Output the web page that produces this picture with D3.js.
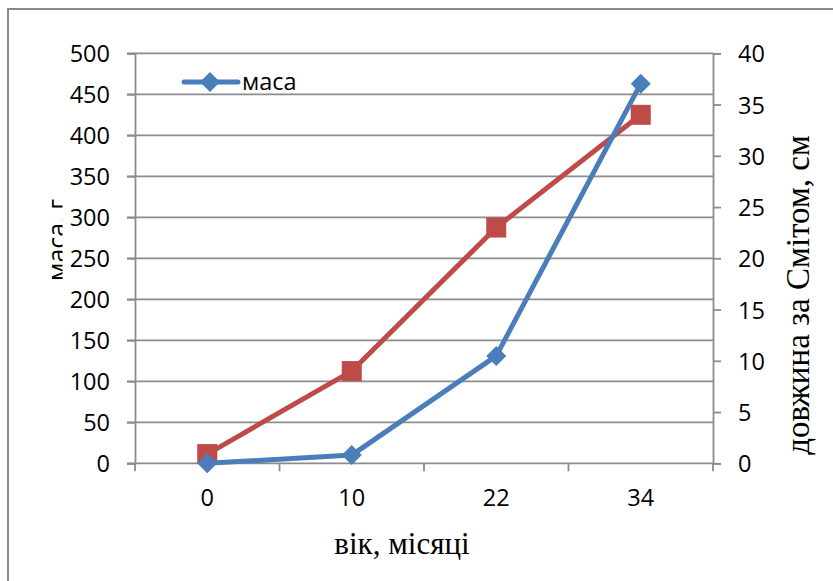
<!DOCTYPE html>
<html>
<head>
<meta charset="utf-8">
<script src="https://cdn.jsdelivr.net/npm/d3@7"></script>
<style>
  html, body { margin: 0; padding: 0; background: #fff; }
  svg { display: block; }
</style>
</head>
<body>
<svg id="chart" width="833" height="581"></svg>
<script>
// Age categories (months)
const ages = ["0", "10", "22", "34"];
// Body mass, g (left axis)
const massValues = [0, 10, 131, 463];
// Smith length, cm (right axis)
const lengthValues = [0.9, 9, 23, 34];
// Axis ticks
const massTicks = [0, 50, 100, 150, 200, 250, 300, 350, 400, 450, 500];
const lengthTicks = [0, 5, 10, 15, 20, 25, 30, 35, 40];

const svg = d3.select("#chart");
const W = 833, H = 581;
const m = { left: 135, right: 713, top: 53.3, bottom: 463.3 };

const sansFont = "'Open Sans', 'Noto Sans', sans-serif";
const serifFont = "'Liberation Serif', 'DejaVu Serif', serif";
const gridColor = "#8c8c8c";
const blue = "#4a7ebb";
const red = "#be4b48";

// Outer frame
svg.append("rect")
  .attr("x", 8).attr("y", 9)
  .attr("width", W + 20).attr("height", H + 20)
  .attr("fill", "#fff").attr("stroke", "#8a8a8a").attr("stroke-width", 2);

const x = d3.scaleBand().domain(ages).range([m.left, m.right]);
const yL = d3.scaleLinear().domain([0, 500]).range([m.bottom, m.top]);
const yR = d3.scaleLinear().domain([0, 40]).range([m.bottom, m.top]);

// Left axis title, partly hidden by the tick label area
svg.append("clipPath").attr("id", "ltitleClip")
  .append("rect").attr("x", 0).attr("y", 0).attr("width", 62.5).attr("height", H);
svg.append("g").attr("clip-path", "url(#ltitleClip)")
  .append("text")
  .attr("transform", "translate(66,240) rotate(-90)")
  .attr("text-anchor", "middle")
  .style("font-family", sansFont).style("font-size", "25px").attr("fill", "#000")
  .text("маса, г");

// Horizontal gridlines
svg.append("g")
  .selectAll("line").data(massTicks).join("line")
  .attr("x1", m.left - 8).attr("x2", m.right)
  .attr("y1", d => yL(d)).attr("y2", d => yL(d))
  .attr("stroke", gridColor).attr("stroke-width", 1.8);

// Left axis
const gL = svg.append("g").attr("transform", `translate(${m.left},0)`)
  .call(d3.axisLeft(yL).tickValues(massTicks).tickSize(8).tickPadding(17));
gL.select(".domain").attr("stroke", gridColor).attr("stroke-width", 1.8);
gL.selectAll(".tick line").attr("stroke", gridColor).attr("stroke-width", 1.8);
gL.selectAll(".tick text")
  .style("font-family", sansFont).style("font-size", "23.5px").attr("fill", "#000")
  .attr("dy", "0.36em");

// Right axis
const gR = svg.append("g").attr("transform", `translate(${m.right},0)`)
  .call(d3.axisRight(yR).tickValues(lengthTicks).tickSize(8).tickPadding(17));
gR.select(".domain").attr("stroke", gridColor).attr("stroke-width", 1.8);
gR.selectAll(".tick line").attr("stroke", gridColor).attr("stroke-width", 1.8);
gR.selectAll(".tick text")
  .style("font-family", sansFont).style("font-size", "23.5px").attr("fill", "#000")
  .attr("dy", "0.36em");

// Bottom axis: labels centred on categories, ticks between categories
const gB = svg.append("g").attr("transform", `translate(0,${m.bottom})`)
  .call(d3.axisBottom(x).tickSize(0).tickPadding(26));
gB.select(".domain").remove();
gB.selectAll(".tick text")
  .style("font-family", sansFont).style("font-size", "23.5px").attr("fill", "#000");
const bounds = d3.range(ages.length + 1).map(i => m.left + i * x.step());
svg.append("g").selectAll("line").data(bounds).join("line")
  .attr("x1", d => d).attr("x2", d => d)
  .attr("y1", m.bottom).attr("y2", m.bottom + 8)
  .attr("stroke", gridColor).attr("stroke-width", 1.8);

const cx = d => x(d) + x.bandwidth() / 2;

// Length series (red squares)
const lengthData = ages.map((a, i) => ({ a, v: lengthValues[i] }));
svg.append("path").datum(lengthData)
  .attr("fill", "none").attr("stroke", red).attr("stroke-width", 5)
  .attr("stroke-linejoin", "round")
  .attr("d", d3.line().x(d => cx(d.a)).y(d => yR(d.v)));
svg.append("g").selectAll("rect").data(lengthData).join("rect")
  .attr("x", d => cx(d.a) - 10).attr("y", d => yR(d.v) - 10)
  .attr("width", 20).attr("height", 20).attr("fill", red);

// Mass series (blue diamonds)
const massData = ages.map((a, i) => ({ a, v: massValues[i] }));
svg.append("path").datum(massData)
  .attr("fill", "none").attr("stroke", blue).attr("stroke-width", 5)
  .attr("stroke-linejoin", "round")
  .attr("d", d3.line().x(d => cx(d.a)).y(d => yL(d.v)));
const diamond = "M0,-10L10,0L0,10L-10,0Z";
svg.append("g").selectAll("path").data(massData).join("path")
  .attr("transform", d => `translate(${cx(d.a)},${yL(d.v)})`)
  .attr("d", diamond).attr("fill", blue);

// Legend
const lg = svg.append("g").attr("transform", "translate(184,82)");
lg.append("line").attr("x1", 0).attr("x2", 54).attr("y1", 0).attr("y2", 0)
  .attr("stroke", blue).attr("stroke-width", 5).attr("stroke-linecap", "round");
lg.append("path").attr("transform", "translate(26,0)").attr("d", diamond).attr("fill", blue);
lg.append("text").attr("x", 58).attr("y", 0).attr("dy", "0.36em")
  .style("font-family", sansFont).style("font-size", "23.5px").attr("fill", "#000")
  .text("маса");

// Axis titles
svg.append("text")
  .attr("x", 402).attr("y", 554)
  .attr("text-anchor", "middle")
  .style("font-family", serifFont).style("font-size", "31px").attr("fill", "#000")
  .text("вік, місяці");
svg.append("text")
  .attr("transform", "translate(809,295) rotate(-90)")
  .attr("text-anchor", "middle")
  .style("font-family", serifFont).style("font-size", "33px").attr("fill", "#000")
  .text("довжина за Смітом, см");
</script>
</body>
</html>
